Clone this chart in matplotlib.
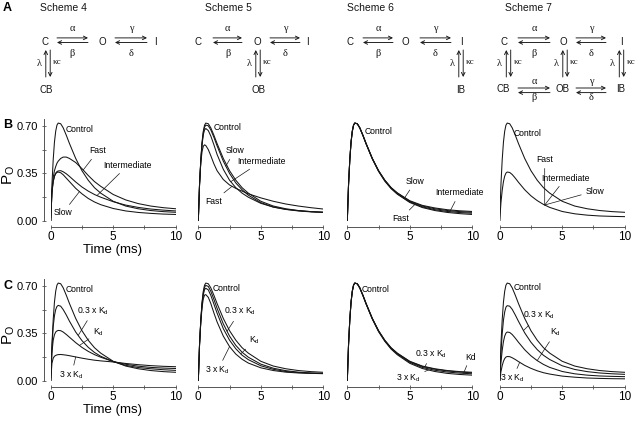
import numpy as np
import matplotlib
matplotlib.use("Agg")
import matplotlib.pyplot as plt

plt.rcParams['font.family'] = ['Liberation Sans', 'DejaVu Sans']
plt.rcParams['mathtext.fontset'] = 'custom'
plt.rcParams['mathtext.rm'] = 'Liberation Sans'
plt.rcParams['mathtext.it'] = 'Liberation Sans:italic'

time_ms = [0, 0.1, 0.2, 0.3, 0.4, 0.5, 0.6, 0.8, 1.0, 1.25, 1.5, 2, 2.5, 3, 3.5, 4, 5, 6, 7, 8, 9, 10]

control = [0, 0.27, 0.45, 0.58, 0.66, 0.705, 0.72, 0.715, 0.685, 0.63, 0.57, 0.46, 0.37, 0.30, 0.245, 0.205, 0.145, 0.11, 0.09, 0.077, 0.069, 0.064]

# row B: blocker kinetics
fast_4 = [0, 0.22, 0.32, 0.37, 0.40, 0.425, 0.44, 0.46, 0.47, 0.47, 0.46, 0.43, 0.385, 0.335, 0.29, 0.255, 0.195, 0.155, 0.128, 0.11, 0.098, 0.09]
inter_4 = [0, 0.21, 0.29, 0.33, 0.352, 0.363, 0.368, 0.37, 0.362, 0.347, 0.328, 0.287, 0.25, 0.22, 0.195, 0.175, 0.142, 0.117, 0.1, 0.088, 0.08, 0.074]
slow_4 = [0, 0.21, 0.29, 0.328, 0.348, 0.357, 0.36, 0.355, 0.34, 0.315, 0.29, 0.24, 0.2, 0.166, 0.14, 0.12, 0.092, 0.074, 0.063, 0.056, 0.051, 0.048]

slow_5 = [0, 0.27, 0.445, 0.57, 0.65, 0.69, 0.705, 0.70, 0.67, 0.615, 0.553, 0.44, 0.35, 0.28, 0.23, 0.19, 0.135, 0.103, 0.085, 0.074, 0.067, 0.063]
inter_5 = [0, 0.27, 0.44, 0.56, 0.635, 0.67, 0.68, 0.665, 0.625, 0.56, 0.49, 0.38, 0.3, 0.245, 0.205, 0.175, 0.13, 0.102, 0.086, 0.076, 0.069, 0.065]
fast_5 = [0, 0.27, 0.43, 0.51, 0.55, 0.56, 0.555, 0.525, 0.48, 0.42, 0.37, 0.305, 0.265, 0.24, 0.22, 0.2, 0.17, 0.145, 0.125, 0.11, 0.098, 0.088]

slow_6 = [0, 0.27, 0.45, 0.58, 0.66, 0.705, 0.72, 0.715, 0.685, 0.63, 0.57, 0.46, 0.37, 0.30, 0.246, 0.207, 0.149, 0.115, 0.096, 0.083, 0.075, 0.07]
inter_6 = [0, 0.27, 0.45, 0.58, 0.66, 0.705, 0.72, 0.715, 0.685, 0.63, 0.57, 0.46, 0.368, 0.297, 0.242, 0.201, 0.14, 0.104, 0.083, 0.07, 0.062, 0.057]
fast_6 = [0, 0.27, 0.45, 0.58, 0.66, 0.705, 0.72, 0.715, 0.684, 0.628, 0.567, 0.456, 0.365, 0.293, 0.238, 0.197, 0.136, 0.099, 0.077, 0.063, 0.054, 0.048]

blocked_7 = [0, 0.135, 0.225, 0.29, 0.33, 0.352, 0.36, 0.357, 0.342, 0.315, 0.285, 0.23, 0.185, 0.15, 0.122, 0.1, 0.07, 0.053, 0.043, 0.037, 0.034, 0.032]

# row C: blocker concentration
kd03_4 = [0, 0.25, 0.40, 0.48, 0.525, 0.548, 0.556, 0.55, 0.525, 0.485, 0.44, 0.36, 0.297, 0.248, 0.21, 0.182, 0.142, 0.115, 0.099, 0.09, 0.083, 0.078]
kd1_4 = [0, 0.21, 0.3, 0.34, 0.36, 0.368, 0.372, 0.37, 0.36, 0.342, 0.322, 0.282, 0.247, 0.218, 0.194, 0.175, 0.143, 0.123, 0.109, 0.1, 0.095, 0.092]
kd3_4 = [0, 0.13, 0.168, 0.182, 0.188, 0.192, 0.194, 0.195, 0.193, 0.19, 0.186, 0.177, 0.168, 0.16, 0.153, 0.148, 0.14, 0.129, 0.12, 0.113, 0.108, 0.105]

kd03_5 = [0, 0.27, 0.445, 0.57, 0.648, 0.69, 0.703, 0.695, 0.66, 0.6, 0.535, 0.42, 0.33, 0.262, 0.212, 0.175, 0.124, 0.094, 0.076, 0.065, 0.059, 0.056]
kd1_5 = [0, 0.27, 0.44, 0.56, 0.635, 0.672, 0.682, 0.67, 0.63, 0.565, 0.5, 0.385, 0.3, 0.237, 0.19, 0.157, 0.112, 0.086, 0.07, 0.062, 0.057, 0.055]
kd3_5 = [0, 0.27, 0.43, 0.54, 0.605, 0.632, 0.635, 0.615, 0.57, 0.5, 0.435, 0.33, 0.253, 0.198, 0.16, 0.132, 0.097, 0.077, 0.065, 0.059, 0.056, 0.054]

kd03_6 = [0, 0.27, 0.45, 0.58, 0.66, 0.705, 0.72, 0.715, 0.685, 0.63, 0.57, 0.46, 0.369, 0.298, 0.243, 0.203, 0.142, 0.107, 0.087, 0.074, 0.066, 0.06]
kd1_6 = [0, 0.27, 0.45, 0.58, 0.66, 0.705, 0.72, 0.715, 0.685, 0.63, 0.57, 0.459, 0.367, 0.296, 0.24, 0.199, 0.137, 0.1, 0.079, 0.066, 0.058, 0.053]
kd3_6 = [0, 0.27, 0.45, 0.58, 0.66, 0.705, 0.72, 0.714, 0.683, 0.627, 0.566, 0.455, 0.363, 0.292, 0.235, 0.193, 0.13, 0.092, 0.07, 0.056, 0.048, 0.043]

kd03_7 = [0, 0.208, 0.347, 0.447, 0.508, 0.543, 0.554, 0.55, 0.527, 0.485, 0.439, 0.354, 0.285, 0.231, 0.189, 0.158, 0.112, 0.085, 0.069, 0.059, 0.053, 0.049]
kd1_7 = blocked_7
kd3_7 = [0, 0.068, 0.113, 0.145, 0.165, 0.176, 0.18, 0.179, 0.171, 0.158, 0.143, 0.115, 0.093, 0.075, 0.061, 0.051, 0.036, 0.028, 0.022, 0.019, 0.017, 0.016]

kd03 = '0.3 x K$_\\mathrm{d}$'
kd1 = 'K$_\\mathrm{d}$'
kd3 = '3 x K$_\\mathrm{d}$'

# (curves, labels) per panel; label = (text, x, y, curve, t on curve)
panels_B = [
    ([control, fast_4, inter_4, slow_4],
     [('Control', 2.34, 0.676, None, 0), ('Fast', 3.78, 0.515, fast_4, 2.6),
      ('Intermediate', 6.18, 0.41, inter_4, 3.7), ('Slow', 0.98, 0.06, slow_4, 2.3)]),
    ([control, slow_5, inter_5, fast_5],
     [('Control', 2.36, 0.69, None, 0), ('Slow', 2.92, 0.515, slow_5, 2.2),
      ('Intermediate', 5.08, 0.44, inter_5, 2.6), ('Fast', 1.24, 0.147, fast_5, 2.7)]),
    ([control, slow_6, inter_6, fast_6],
     [('Control', 2.48, 0.66, None, 0), ('Slow', 5.44, 0.29, slow_6, 4.6),
      ('Intermediate', 8.97, 0.206, inter_6, 8.2), ('Fast', 4.3, 0.02, fast_6, 5.4)]),
    ([control, blocked_7],
     [('Control', 2.24, 0.64, None, 0), ('Fast', 3.6, 0.45, blocked_7, 3.6),
      ('Intermediate', 5.28, 0.316, blocked_7, 3.6), ('Slow', 7.6, 0.22, blocked_7, 3.6)]),
]
panels_C = [
    ([control, kd03_4, kd1_4, kd3_4],
     [('Control', 2.34, 0.676, None, 0), (kd03, 3.4, 0.515, kd03_4, 2.2),
      (kd1, 3.8, 0.358, kd1_4, 2.3), (kd3, 1.66, 0.044, kd3_4, 2.0)]),
    ([control, kd03_5, kd1_5, kd3_5],
     [('Control', 2.28, 0.68, None, 0), (kd03, 3.32, 0.51, kd03_5, 2.3),
      (kd1, 4.52, 0.30, kd1_5, 3.4), (kd3, 1.56, 0.08, kd3_5, 2.5)]),
    ([control, kd03_6, kd1_6, kd3_6],
     [('Control', 2.24, 0.67, None, 0), (kd03, 6.72, 0.2, kd03_6, 6.2),
      (kd3, 4.88, 0.022, kd3_6, 6.5), ('Kd', 9.84, 0.176, kd1_6, 9.3)]),
    ([control, kd03_7, kd1_7, kd3_7],
     [('Control', 2.24, 0.69, None, 0), (kd03, 3.1, 0.48, kd03_7, 1.9),
      (kd1, 4.48, 0.36, kd1_7, 3.0), (kd3, 1.04, 0.02, kd3_7, 1.6)]),
]

W, H = 638, 421
col_x0 = [50.7, 198.3, 347.3, 499.7]   # pixel of t = 0
row_y0 = [221, 381]                    # pixel of Po = 0
px_t, px_p = 12.5, 136.0
ink = '#151515'
axis_col = '#555555'

fig = plt.figure(figsize=(W / 100, H / 100), dpi=100)

# overlay in pixel coordinates for schemes, letters and axis titles
ov = fig.add_axes([0, 0, 1, 1])
ov.set_xlim(0, W)
ov.set_ylim(H, 0)
ov.axis('off')


def species(x, y, s):
    ov.text(x, y, s, fontsize=7, ha='center', va='center', color=ink)


def greek(x, y, s):
    ov.text(x, y, s, fontsize=7.5, family='Liberation Serif', ha='center', va='center', color=ink)


def arrow(x1, y1, x2, y2):
    ov.annotate('', xy=(x2, y2), xytext=(x1, y1),
                arrowprops=dict(arrowstyle='->', lw=0.65, color=ink, shrinkA=0, shrinkB=0,
                                mutation_scale=6.5))


def h_link(xa, xb, y, up, down, d_up=12, d_down=12.8):
    arrow(xa, y - 2.3, xb, y - 2.3)
    arrow(xb, y + 2.3, xa, y + 2.3)
    greek((xa + xb) / 2, y - d_up, up)
    greek((xa + xb) / 2, y + d_down, down)


def v_link(x, y1=50, y2=77):
    arrow(x - 2.2, y2, x - 2.2, y1)
    arrow(x + 2.2, y1, x + 2.2, y2)
    greek(x - 9, (y1 + y2) / 2, 'λ')
    ov.text(x + 9.5, (y1 + y2) / 2 - 1, 'κc', fontsize=6.5, family='Liberation Serif',
            ha='center', va='center', color=ink)


ov.text(3, 8, 'A', fontsize=9, fontweight='bold', ha='left', va='center')
ov.text(3, 125, 'B', fontsize=9, fontweight='bold', ha='left', va='center')
ov.text(3, 286, 'C', fontsize=9, fontweight='bold', ha='left', va='center')

for x, s in [(40, 'Scheme 4'), (205, 'Scheme 5'), (347, 'Scheme 6'), (505, 'Scheme 7')]:
    ov.text(x, 8, s, fontsize=7.5, ha='left', va='center', color=ink)

row_y = 42
# scheme 4
species(45, row_y, 'C'); species(102, row_y, 'O'); species(155, row_y, 'I')
h_link(57, 88, 40.2, 'α', 'β'); h_link(115, 147, 40.2, 'γ', 'δ')
v_link(48); species(46, 90, 'CB')
# scheme 5
species(198, row_y, 'C'); species(257, row_y, 'O'); species(307, row_y, 'I')
h_link(213, 242, 40.2, 'α', 'β'); h_link(270, 300, 40.2, 'γ', 'δ')
v_link(258); species(258, 90, 'OB')
# scheme 6
species(350, row_y, 'C'); species(405, row_y, 'O'); species(461, row_y, 'I')
h_link(363, 393, 40.2, 'α', 'β'); h_link(420, 451, 40.2, 'γ', 'δ')
v_link(461); species(461, 90, 'IB')
# scheme 7
species(504, row_y, 'C'); species(563, row_y, 'O'); species(621, row_y, 'I')
h_link(518, 550, 40.2, 'α', 'β'); h_link(576, 606, 40.2, 'γ', 'δ')
v_link(508.5); v_link(565); v_link(621.5)
species(503, 89.5, 'CB'); species(563, 89.5, 'OB'); species(621, 89.5, 'IB')
h_link(518, 550, 90.3, 'α', 'β', 8.6, 7.5); h_link(576, 606, 90.3, 'γ', 'δ', 8.6, 7.5)

for r, y0 in enumerate(row_y0):
    ov.text(9, y0 - 46, 'P$_\\mathrm{O}$', rotation=90, fontsize=11, ha='center', va='center')
    ov.text(112.5, y0 + 29, 'Time (ms)', fontsize=9.5, ha='center', va='center')

for r, panels in enumerate([panels_B, panels_C]):
    for c, (curves, labels) in enumerate(panels):
        ax = fig.add_axes([col_x0[c] / W, 1 - row_y0[r] / H, 10 * px_t / W, 0.76 * px_p / H])
        ax.patch.set_alpha(0)
        ax.set_xlim(0, 10)
        ax.set_ylim(0, 0.76)
        for sp in ['top', 'right']:
            ax.spines[sp].set_visible(False)
        ax.spines['bottom'].set_position(('outward', 4.5))
        ax.spines['bottom'].set_bounds(0, 10)
        ax.spines['bottom'].set_color(axis_col)
        ax.spines['bottom'].set_linewidth(0.7)
        ax.set_xticks([0, 5, 10])
        ax.set_xticks([2.5, 7.5], minor=True)
        ax.tick_params(axis='x', which='both', direction='inout', length=3.5, width=0.6,
                       color=axis_col, labelsize=8.5, pad=1)
        if c == 0:
            ax.spines['left'].set_position(('outward', 5))
            ax.spines['left'].set_bounds(0, 0.75)
            ax.spines['left'].set_color(axis_col)
            ax.spines['left'].set_linewidth(0.7)
            ax.set_yticks([0, 0.35, 0.70])
            ax.set_yticklabels(['0.00', '0.35', '0.70'])
            ax.set_yticks([0.175, 0.525], minor=True)
            ax.tick_params(axis='y', which='both', direction='inout', length=3.5, width=0.6,
                           color=axis_col, labelsize=8, pad=2.5)
        else:
            ax.spines['left'].set_visible(False)
            ax.set_yticks([])

        for curve in curves:
            ax.plot(time_ms, curve, color=ink, lw=0.75)

        for text, tx, ty, curve, ta in labels:
            if curve is None:
                ax.text(tx, ty, text, fontsize=6.2, ha='center', va='center')
            else:
                ax.annotate(text, xy=(ta, np.interp(ta, time_ms, curve)), xytext=(tx, ty),
                            fontsize=6.2, ha='center', va='center', annotation_clip=False,
                            arrowprops=dict(arrowstyle='-', lw=0.5, color=ink,
                                            shrinkA=1, shrinkB=0))

fig.savefig('out.png', dpi=100)
